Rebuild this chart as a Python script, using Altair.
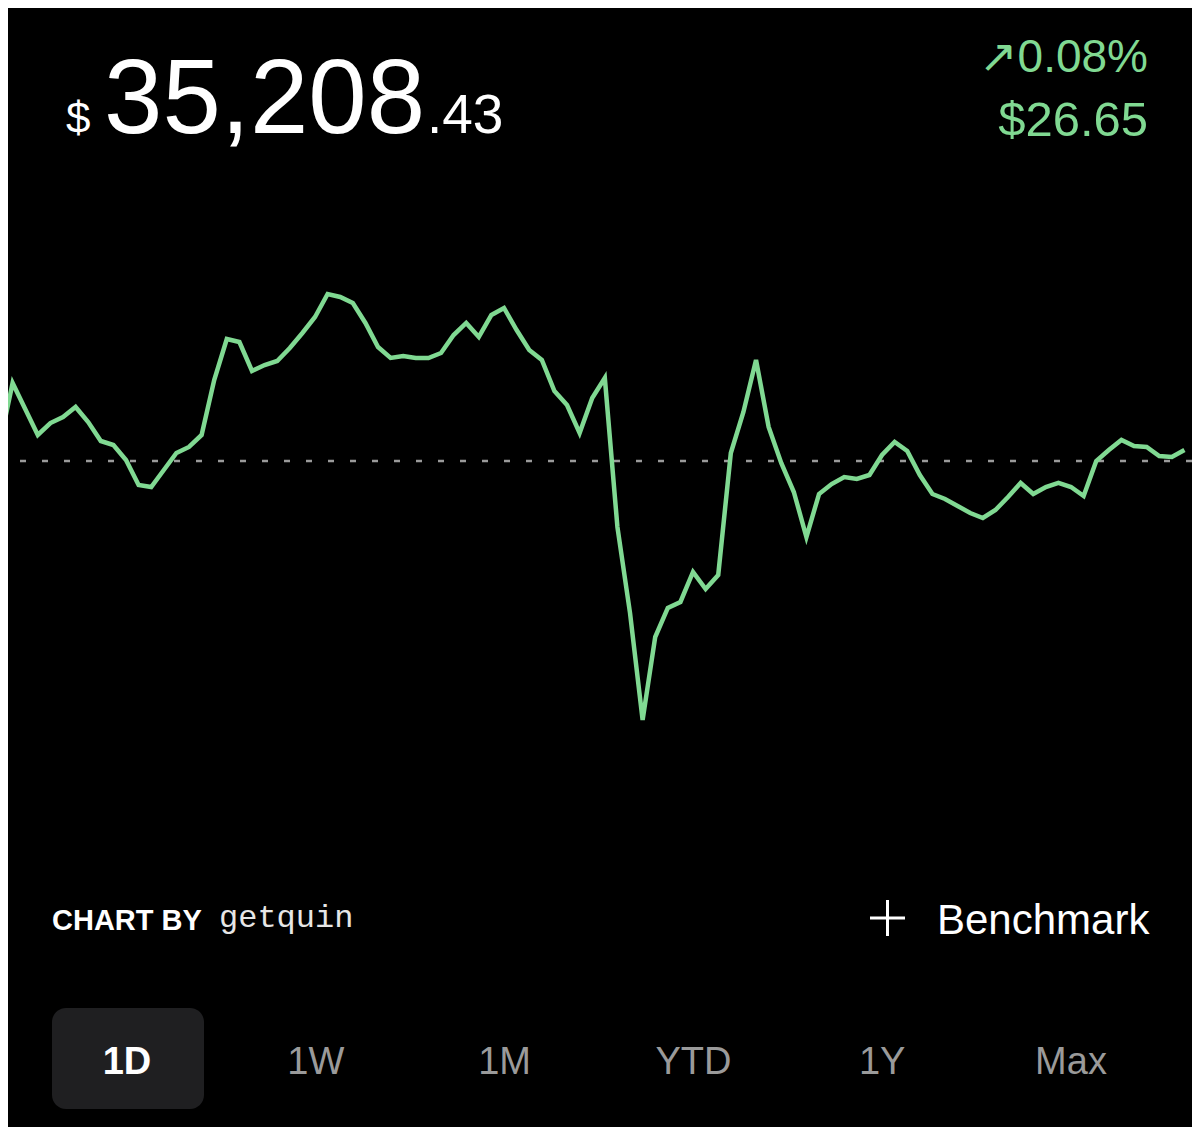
import altair as alt
import pandas as pd

# ---- data ----
prices = [
    35225.3, 35370.6, 35307.6, 35244.7, 35273.7, 35288.3, 35312.5, 35276.2, 35230.2, 35220.5,
    35184.2, 35123.7, 35118.9, 35160.0, 35201.2, 35215.7, 35244.7, 35377.8, 35477.0, 35469.8,
    35399.6, 35414.1, 35423.8, 35455.3, 35491.6, 35530.3, 35585.9, 35578.7, 35564.2, 35515.8,
    35457.7, 35431.1, 35435.9, 35431.1, 35431.1, 35443.2, 35486.7, 35515.8, 35481.9, 35535.1,
    35552.1, 35498.8, 35450.4, 35426.2, 35351.2, 35317.3, 35249.6, 35334.3, 35382.7, 35022.1,
    34814.0, 34555.0, 34755.9, 34826.1, 34840.6, 34913.2, 34872.0, 34905.9, 35201.2, 35300.4,
    35426.2, 35264.1, 35177.0, 35106.8, 34997.9, 35101.9, 35126.1, 35143.1, 35138.2, 35147.9,
    35196.3, 35227.8, 35206.0, 35147.9, 35101.9, 35089.8, 35072.9, 35056.0, 35043.9, 35063.2,
    35094.7, 35128.6, 35101.9, 35118.9, 35128.6, 35118.9, 35097.1, 35181.8, 35208.4, 35232.6,
    35218.1, 35215.7, 35193.9, 35191.5, 35208.43,
]
prev_close = [35181.78]
value_int = ["35,208"]
value_dec = [".43"]
change_pct = ["↗0.08%"]
change_abs = ["$26.65"]
ranges = ["1D", "1W", "1M", "YTD", "1Y", "Max"]
active_range = ["1D"]

W, H = 1184, 1119
GREEN = "#80D992"
FONT = "Liberation Sans"

df = pd.DataFrame({"i": list(range(len(prices))), "value": prices})
xs = alt.Scale(domain=[0.635, 94.6], nice=False, zero=False)
ys = alt.Scale(domain=[33570.06, 36278.04], nice=False, zero=False)

line = alt.Chart(df).mark_line(color=GREEN, strokeWidth=4.5).encode(
    x=alt.X("i:Q", scale=xs, axis=None),
    y=alt.Y("value:Q", scale=ys, axis=None),
)
base_rule = alt.Chart(pd.DataFrame({"value": prev_close})).mark_rule(
    color="#9a9a9a", strokeWidth=2.5, strokeDash=[6, 16]
).encode(y=alt.Y("value:Q", scale=ys, axis=None))


def txt(text, x, y, size, color="white", align="left", weight="normal", font=FONT, baseline="alphabetic"):
    return alt.Chart(pd.DataFrame({"t": text})).mark_text(
        align=align, baseline=baseline, fontSize=size, color=color,
        fontWeight=weight, font=font
    ).encode(text="t:N", x=alt.value(x), y=alt.value(y))


dollar = txt(["$"], 58, 125, 44)
big = txt(value_int, 96, 125, 105)
dec = txt(value_dec, 419, 125, 55)
pct = txt(change_pct, 1140, 64, 46, color=GREEN, align="right")
absch = txt(change_abs, 1140, 128, 49, color=GREEN, align="right")

chartby = txt(["CHART BY"], 44, 922, 29, weight="bold")
getquin = txt(["getquin"], 211, 919, 32, color="#e6e6e6", font="Liberation Mono")
plus_h = alt.Chart(pd.DataFrame({"a": [0]})).mark_rule(color="white", strokeWidth=3).encode(
    x=alt.value(862), x2=alt.value(897), y=alt.value(910)
)
plus_v = alt.Chart(pd.DataFrame({"a": [0]})).mark_rule(color="white", strokeWidth=3).encode(
    x=alt.value(879.5), y=alt.value(892), y2=alt.value(928)
)
bench = txt(["Benchmark"], 929, 926, 42)

button = alt.Chart(pd.DataFrame({"a": [0]})).mark_rect(color="#1f1f21", cornerRadius=14).encode(
    x=alt.value(44), x2=alt.value(196), y=alt.value(1000), y2=alt.value(1101)
)

lab_scale = alt.Scale(domain=ranges, range=[119, 1063], padding=0)
lab_df = pd.DataFrame({"label": ranges})
labels_rest = alt.Chart(lab_df).transform_filter(
    alt.FieldOneOfPredicate(field="label", oneOf=ranges[1:])
).mark_text(fontSize=38, color="#9a9a9a", font=FONT, baseline="alphabetic").encode(
    x=alt.X("label:N", scale=lab_scale, axis=None), y=alt.value(1066), text="label:N"
)
labels_active = alt.Chart(pd.DataFrame({"label": active_range})).mark_text(
    fontSize=38, color="white", font=FONT, fontWeight="bold", baseline="alphabetic"
).encode(x=alt.X("label:N", scale=lab_scale, axis=None), y=alt.value(1066), text="label:N")

labels = alt.layer(labels_rest, labels_active)

chart = alt.layer(
    base_rule, line, dollar, big, dec, pct, absch, chartby, getquin, plus_h, plus_v, bench,
    button, labels
).resolve_scale(x="independent").properties(
    width=W, height=H, background="black", padding=0,
    autosize=alt.AutoSizeParams(type="none"),
).configure_view(stroke=None)

chart.save("out.html", embed_options={"renderer": "svg", "actions": False})
